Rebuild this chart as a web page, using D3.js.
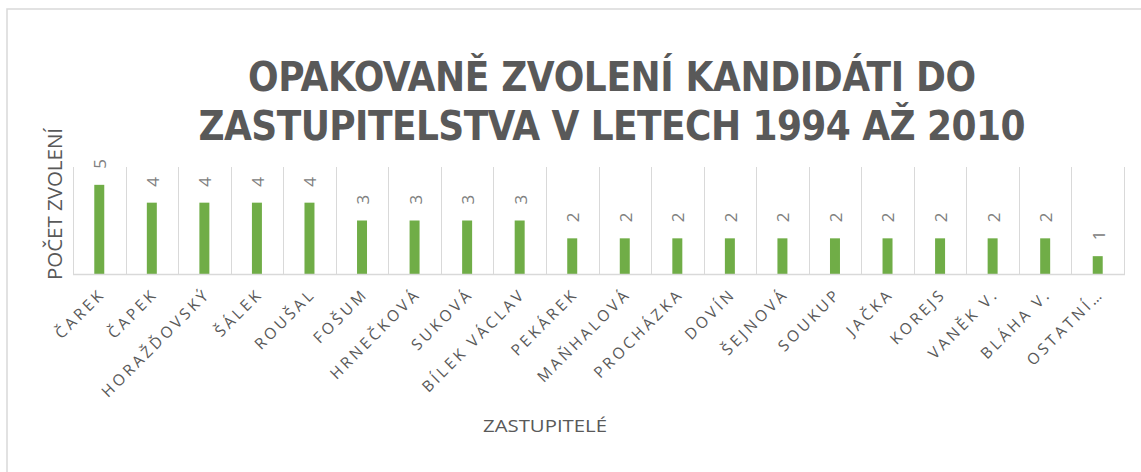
<!DOCTYPE html>
<html lang="cs">
<head>
    <meta charset="UTF-8">
    <title>Opakovaně zvolení kandidáti</title>
    <style>
        body {
            margin: 0;
            background-color: #fff;
        }
        svg {
            display: block;
        }
        .grid {
            stroke: #d9d9d9;
            stroke-width: 1px;
        }
        .catLabel {
            font-family: "Open Sans", sans-serif;
            font-size: 15.5px;
            letter-spacing: 3.2px;
            fill: #595959;
        }
        .valLabel {
            font-family: "Open Sans", sans-serif;
            font-size: 17px;
            fill: #808080;
        }
    </style>
</head>
<body>
<script src="https://d3js.org/d3.v7.min.js"></script>
<script>
    var names = ["ČAREK", "ČAPEK", "HORAŽĎOVSKÝ", "ŠÁLEK", "ROUŠAL", "FOŠUM", "HRNEČKOVÁ",
        "SUKOVÁ", "BÍLEK VÁCLAV", "PEKÁREK", "MAŇHALOVÁ", "PROCHÁZKA", "DOVÍN", "ŠEJNOVÁ",
        "SOUKUP", "JAČKA", "KOREJS", "VANĚK V.", "BLÁHA V.", "OSTATNÍ…"];
    var counts = [5, 4, 4, 4, 4, 3, 3, 3, 3, 2, 2, 2, 2, 2, 2, 2, 2, 2, 2, 1];
    var titleLines = ["OPAKOVANĚ ZVOLENÍ KANDIDÁTI DO", "ZASTUPITELSTVA V LETECH 1994 AŽ 2010"];
    var yTitle = "POČET ZVOLENÍ";
    var xTitle = "ZASTUPITELÉ";
    var yMax = 6;

    var W = 1141, H = 472;
    var svg = d3.select("body").append("svg")
        .attr("width", W)
        .attr("height", H);

    // chart frame (runs off the right and bottom edge like the screenshot)
    svg.append("rect")
        .attr("x", 7).attr("y", 9)
        .attr("width", 1160).attr("height", 500)
        .attr("fill", "#fff")
        .attr("stroke", "#d9d9d9")
        .attr("stroke-width", 1.5);

    var plotL = 73, plotR = 1124, plotT = 167, plotB = 274;

    var x = d3.scaleBand()
        .domain(names)
        .range([plotL, plotR])
        .padding(0);

    var y = d3.scaleLinear()
        .domain([0, yMax])
        .range([plotB, plotT]);

    var step = x.step();
    var barW = step * 0.19;

    // vertical gridlines between categories
    var edges = names.map(function (d) { return x(d); }).concat([plotR]);
    svg.append("g").selectAll("line")
        .data(edges)
        .enter()
        .append("line")
        .attr("class", "grid")
        .attr("x1", function (d) { return Math.round(d) + 0.5; })
        .attr("x2", function (d) { return Math.round(d) + 0.5; })
        .attr("y1", plotT)
        .attr("y2", plotB);

    // bars
    svg.append("g").selectAll("rect")
        .data(counts)
        .enter()
        .append("rect")
        .attr("x", function (d, i) { return x(names[i]) + step / 2 - barW / 2; })
        .attr("y", function (d) { return y(d); })
        .attr("width", barW)
        .attr("height", function (d) { return plotB - y(d); })
        .attr("fill", "#70ad47");

    // axis line
    svg.append("line")
        .attr("x1", plotL).attr("x2", plotR + 1)
        .attr("y1", plotB + 0.5).attr("y2", plotB + 0.5)
        .attr("stroke", "#d9d9d9")
        .attr("stroke-width", 1.5);

    // value labels, rotated
    svg.append("g").selectAll("text")
        .data(counts)
        .enter()
        .append("text")
        .attr("class", "valLabel")
        .attr("transform", function (d, i) {
            return "translate(" + (x(names[i]) + step / 2 + 1) + "," + (y(d) - 16) + ") rotate(-90)";
        })
        .attr("dy", "0.35em")
        .text(function (d) { return d; });

    // category labels at -45 degrees
    svg.append("g").selectAll("text")
        .data(names)
        .enter()
        .append("text")
        .attr("class", "catLabel")
        .attr("text-anchor", "end")
        .attr("transform", function (d) {
            return "translate(" + (x(d) + step / 2 + 7) + "," + 295 + ") rotate(-45)";
        })
        .text(function (d) { return d; });

    // title
    var titleY = [91, 140];
    var titleW = [728, 827];
    svg.append("g").selectAll("text")
        .data(titleLines)
        .enter()
        .append("text")
        .attr("x", 612)
        .attr("y", function (d, i) { return titleY[i]; })
        .attr("text-anchor", "middle")
        .attr("textLength", function (d, i) { return titleW[i]; })
        .attr("lengthAdjust", "spacing")
        .style("font-family", "'Liberation Sans Narrow', 'DejaVu Sans Condensed', sans-serif")
        .style("font-weight", "bold")
        .style("font-size", "40px")
        .style("fill", "#595959")
        .text(function (d) { return d; });

    // axis titles
    svg.append("text")
        .attr("transform", "translate(62,204) rotate(-90)")
        .attr("text-anchor", "middle")
        .attr("textLength", 152)
        .attr("lengthAdjust", "spacingAndGlyphs")
        .style("font-family", "'Open Sans', sans-serif")
        .style("font-size", "20px")
        .style("fill", "#595959")
        .text(yTitle);

    svg.append("text")
        .attr("x", 545)
        .attr("y", 432)
        .attr("text-anchor", "middle")
        .attr("textLength", 124)
        .attr("lengthAdjust", "spacingAndGlyphs")
        .style("font-family", "'Open Sans', sans-serif")
        .style("font-size", "17px")
        .style("fill", "#595959")
        .text(xTitle);
</script>
</body>
</html>
